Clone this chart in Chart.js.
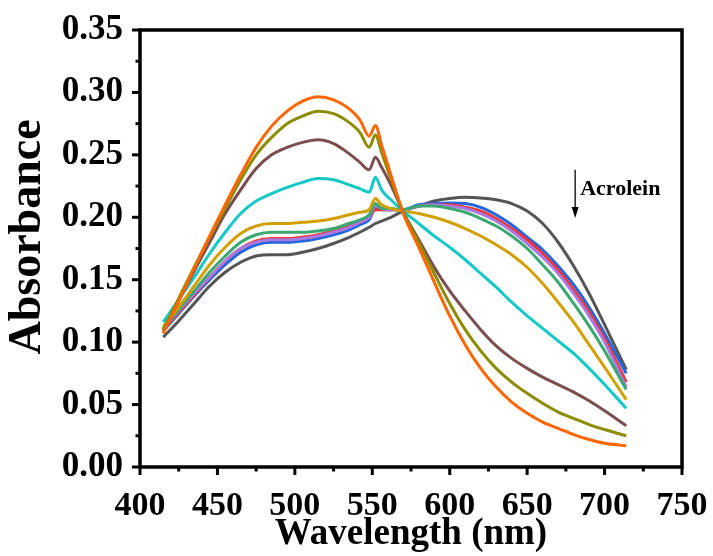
<!DOCTYPE html>
<html>
<head>
<meta charset="utf-8">
<script src="https://cdn.jsdelivr.net/npm/chart.js@4/dist/chart.umd.min.js"></script>
<style>
html,body{margin:0;padding:0;background:#fff;}
#c{display:block;}
</style>
</head>
<body>
<canvas id="c" width="713" height="556"></canvas>
<script>
// Wavelengths (nm)
const wavelengths = [415,425,435,445,455,465,475,485,495,505,515,525,535,542,548,552,556,562,570,580,590,600,610,620,630,640,650,660,670,680,690,700,714];

// Absorbance series (from top-left peak to bottom-left)
const orange = [0.107,0.133,0.159,0.185,0.210,0.234,0.256,0.273,0.285,0.293,0.2965,0.294,0.287,0.278,0.265,0.2735,0.258,0.234,0.203,0.176,0.148,0.121,0.098,0.079,0.064,0.052,0.043,0.036,0.031,0.026,0.022,0.019,0.017];
const olive  = [0.110,0.135,0.160,0.184,0.207,0.230,0.250,0.264,0.275,0.281,0.285,0.283,0.276,0.268,0.256,0.266,0.252,0.231,0.204,0.180,0.155,0.131,0.110,0.093,0.079,0.068,0.059,0.051,0.044,0.039,0.034,0.030,0.025];
const brown  = [0.109,0.133,0.157,0.180,0.203,0.222,0.239,0.250,0.256,0.260,0.262,0.259,0.251,0.244,0.238,0.248,0.240,0.226,0.204,0.182,0.160,0.141,0.125,0.110,0.097,0.087,0.079,0.072,0.066,0.060,0.053,0.045,0.033];
const cyan   = [0.116,0.134,0.152,0.171,0.188,0.203,0.213,0.219,0.224,0.228,0.231,0.230,0.226,0.223,0.220,0.232,0.222,0.214,0.205,0.195,0.185,0.176,0.166,0.155,0.144,0.132,0.121,0.111,0.101,0.091,0.079,0.066,0.047];
const gold   = [0.112,0.128,0.145,0.162,0.176,0.187,0.193,0.195,0.195,0.196,0.197,0.199,0.202,0.204,0.206,0.215,0.210,0.207,0.205,0.203,0.200,0.196,0.191,0.185,0.178,0.170,0.160,0.147,0.132,0.116,0.098,0.080,0.054];
const green  = [0.111,0.126,0.141,0.156,0.169,0.180,0.186,0.188,0.188,0.188,0.189,0.191,0.195,0.198,0.202,0.211,0.207,0.207,0.206,0.209,0.209,0.207,0.204,0.199,0.193,0.185,0.175,0.162,0.148,0.131,0.113,0.093,0.062];
const purple = [0.111,0.125,0.139,0.152,0.165,0.175,0.180,0.182,0.182,0.183,0.185,0.188,0.192,0.196,0.200,0.210,0.207,0.206,0.206,0.209,0.210,0.209,0.207,0.203,0.197,0.189,0.179,0.168,0.155,0.139,0.121,0.100,0.064];
const red    = [0.110,0.124,0.138,0.152,0.165,0.175,0.181,0.183,0.183,0.184,0.186,0.189,0.193,0.196,0.200,0.206,0.206,0.206,0.206,0.209,0.210,0.210,0.208,0.205,0.199,0.191,0.182,0.171,0.158,0.142,0.124,0.103,0.068];
const blue   = [0.109,0.123,0.137,0.150,0.162,0.172,0.178,0.180,0.180,0.181,0.183,0.186,0.190,0.194,0.198,0.207,0.206,0.206,0.206,0.210,0.211,0.2115,0.211,0.208,0.202,0.194,0.184,0.174,0.161,0.146,0.128,0.107,0.075];
const gray   = [0.104,0.117,0.131,0.145,0.156,0.164,0.169,0.170,0.170,0.172,0.175,0.179,0.184,0.188,0.192,0.195,0.197,0.200,0.205,0.209,0.213,0.215,0.216,0.2155,0.214,0.211,0.205,0.195,0.180,0.161,0.139,0.114,0.078];

// Tick values
const xMajorTicks = [400,450,500,550,600,650,700,750];
const xMinorTicks = [425,475,525,575,625,675,725];
const yMajorTicks = [0,0.05,0.10,0.15,0.20,0.25,0.30,0.35];
const yMinorTicks = [0.025,0.075,0.125,0.175,0.225,0.275,0.325];

const annotationText = 'Acrolein';

const seriesList = [
  {name:'orange', data:orange, color:'#ff6600'},
  {name:'olive',  data:olive,  color:'#8c8c00'},
  {name:'brown',  data:brown,  color:'#7a4e4e'},
  {name:'cyan',   data:cyan,   color:'#14c8c8'},
  {name:'gold',   data:gold,   color:'#d1a000'},
  {name:'green',  data:green,  color:'#3aa870'},
  {name:'purple', data:purple, color:'#aa78e0'},
  {name:'red',    data:red,    color:'#f03434'},
  {name:'blue',   data:blue,   color:'#1f66e0'},
  {name:'gray',   data:gray,   color:'#555555'}
];

const FONT = "'Liberation Serif','Times New Roman',serif";

const framePlugin = {
  id: 'frame',
  afterDatasetsDraw(chart) {
    const {ctx, chartArea, scales} = chart;
    const {left, right, top, bottom} = chartArea;
    const xs = scales.x, ys = scales.y;
    ctx.save();
    ctx.strokeStyle = '#000';
    ctx.lineCap = 'butt';
    ctx.lineWidth = 3;
    xMajorTicks.forEach(v => { const p = xs.getPixelForValue(v); ctx.beginPath(); ctx.moveTo(p, bottom); ctx.lineTo(p, bottom + 8); ctx.stroke(); });
    xMinorTicks.forEach(v => { const p = xs.getPixelForValue(v); ctx.beginPath(); ctx.moveTo(p, bottom); ctx.lineTo(p, bottom + 4.5); ctx.stroke(); });
    yMajorTicks.forEach(v => { const p = ys.getPixelForValue(v); ctx.beginPath(); ctx.moveTo(left, p); ctx.lineTo(left - 8, p); ctx.stroke(); });
    yMinorTicks.forEach(v => { const p = ys.getPixelForValue(v); ctx.beginPath(); ctx.moveTo(left, p); ctx.lineTo(left - 4.5, p); ctx.stroke(); });
    ctx.lineWidth = 3.5;
    ctx.strokeRect(left, top, right - left, bottom - top);

    // Annotation arrow + text
    const ax = xs.getPixelForValue(681);
    const ay1 = ys.getPixelForValue(0.238);
    const ay2 = ys.getPixelForValue(0.1995);
    ctx.lineWidth = 1.3;
    ctx.beginPath(); ctx.moveTo(ax, ay1); ctx.lineTo(ax, ay2 - 8); ctx.stroke();
    ctx.fillStyle = '#000';
    ctx.beginPath(); ctx.moveTo(ax - 3.5, ay2 - 11); ctx.lineTo(ax + 3.5, ay2 - 11); ctx.lineTo(ax, ay2); ctx.closePath(); ctx.fill();
    ctx.font = "bold 22px " + FONT;
    ctx.textAlign = 'left';
    ctx.textBaseline = 'middle';
    ctx.fillText(annotationText, ax + 5, ys.getPixelForValue(0.2226));
    ctx.restore();
  }
};

const datasets = seriesList.map(s => ({
  label: s.name,
  data: wavelengths.map((w, i) => ({x: w, y: s.data[i]})),
  borderColor: s.color,
  backgroundColor: s.color,
  borderWidth: 3,
  pointRadius: 0,
  fill: false,
  cubicInterpolationMode: 'monotone'
}));

new Chart(document.getElementById('c'), {
  type: 'line',
  data: { datasets },
  options: {
    responsive: false,
    animation: false,
    devicePixelRatio: 1,
    layout: { padding: { left: 0, right: 31, top: 30, bottom: 0 } },
    plugins: { legend: { display: false }, tooltip: { enabled: false } },
    scales: {
      x: {
        type: 'linear', min: 400, max: 750,
        afterFit: s => { s.height = 89; },
        grid: { display: true, color: 'rgba(0,0,0,0)', drawOnChartArea: false, drawTicks: true, tickLength: 19 },
        border: { display: false },
        ticks: { stepSize: 50, padding: 0, color: '#000', maxRotation: 0,
                 font: { family: FONT, weight: 'bold', size: 34 } },
        title: { display: true, text: 'Wavelength (nm)', color: '#000',
                 padding: { top: 0, bottom: 0 },
                 font: { family: FONT, weight: 'bold', size: 37, lineHeight: 1.15 } }
      },
      y: {
        type: 'linear', min: 0, max: 0.35,
        afterFit: s => { s.width = 140; },
        grid: { display: true, color: 'rgba(0,0,0,0)', drawOnChartArea: false, drawTicks: true, tickLength: 17 },
        border: { display: false },
        ticks: { stepSize: 0.05, padding: 0, color: '#000',
                 callback: v => Number(v).toFixed(2),
                 font: { family: FONT, weight: 'bold', size: 35 } },
        title: { display: true, text: '  Absorbance', color: '#000',
                 padding: { top: 1, bottom: 0 },
                 font: { family: FONT, weight: 'bold', size: 46, lineHeight: 1.2 } }
      }
    }
  },
  plugins: [framePlugin]
});
</script>
</body>
</html>
